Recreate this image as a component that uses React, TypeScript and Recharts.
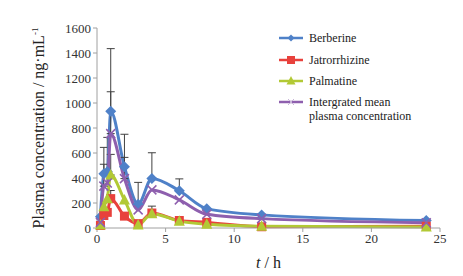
import { LineChart, Line, XAxis, YAxis, ErrorBar, Label } from "recharts";

const hours = [0.25, 0.5, 0.75, 1, 2, 3, 4, 6, 8, 12, 24];
const berberine = [90, 435, 450, 935, 490, 190, 397, 298, 155, 105, 60];
const jatrorrhizine = [20, 100, 125, 235, 95, 35, 120, 60, 45, 10, 15];
const palmatine = [25, 170, 235, 424, 225, 25, 115, 55, 30, 15, 8];
const integrated = [45, 335, 360, 755, 395, 145, 305, 225, 110, 75, 42];

// upper error only (SD), null = no bar
const berberineSd = [null, 210, 275, 500, 260, 175, 205, 95, null, null, null];
const integratedSd = [null, 175, null, 335, 170, null, null, null, null, null, null];
const palmatineSd = [null, null, null, 165, null, null, null, null, null, null, null];
const jatrorrhizineSd = [null, null, null, 65, null, null, 55, null, null, null, null];

const xTicks = [0, 5, 10, 15, 20, 25];
const yTicks = [0, 200, 400, 600, 800, 1000, 1200, 1400, 1600];

const BLUE = "#4F81C8";
const RED = "#E8413C";
const GREEN = "#B2C935";
const PURPLE = "#8E5FAE";
const FONT = "Liberation Serif, DejaVu Serif, serif";

const up = (v: number | null) => (v == null ? null : [0, v]);

const rows = hours.map((t, i) => ({
  t,
  berberine: berberine[i],
  jatrorrhizine: jatrorrhizine[i],
  palmatine: palmatine[i],
  integrated: integrated[i],
  bErr: up(berberineSd[i]),
  jErr: up(jatrorrhizineSd[i]),
  pErr: up(palmatineSd[i]),
  iErr: up(integratedSd[i]),
}));

const diamond = (p: any) => {
  if (p.cx == null) return <g key={p.key} />;
  const r = 5.5;
  return (
    <path key={p.key} d={`M${p.cx},${p.cy - r}L${p.cx + r},${p.cy}L${p.cx},${p.cy + r}L${p.cx - r},${p.cy}Z`} fill={BLUE} />
  );
};
const square = (p: any) => {
  if (p.cx == null) return <g key={p.key} />;
  return <rect key={p.key} x={p.cx - 4.5} y={p.cy - 4.5} width={9} height={9} fill={RED} />;
};
const triangle = (p: any) => {
  if (p.cx == null) return <g key={p.key} />;
  return (
    <path key={p.key} d={`M${p.cx},${p.cy - 6}L${p.cx + 5.5},${p.cy + 4.5}L${p.cx - 5.5},${p.cy + 4.5}Z`} fill={GREEN} />
  );
};
const cross = (p: any) => {
  if (p.cx == null) return <g key={p.key} />;
  const r = 4.5;
  return (
    <path key={p.key} d={`M${p.cx - r},${p.cy - r}L${p.cx + r},${p.cy + r}M${p.cx - r},${p.cy + r}L${p.cx + r},${p.cy - r}`} stroke={PURPLE} strokeWidth={1.5} />
  );
};

const legendRows = [
  { name: ["Berberine"], color: BLUE, mark: "d" },
  { name: ["Jatrorrhizine"], color: RED, mark: "s" },
  { name: ["Palmatine"], color: GREEN, mark: "t" },
  { name: ["Intergrated mean", "plasma concentration"], color: PURPLE, mark: "x" },
];

function LegendBox() {
  const ys = [10, 32, 53, 74];
  return (
    <svg width={180} height={110} style={{ display: "block" }}>
      {legendRows.map((r, i) => {
        const y = ys[i];
        const cx = 16;
        return (
          <g key={r.name[0]}>
            <line x1={4} y1={y} x2={28} y2={y} stroke={r.color} strokeWidth={2.5} />
            {r.mark === "d" && <path d={`M${cx},${y - 3.5}L${cx + 3.5},${y}L${cx},${y + 3.5}L${cx - 3.5},${y}Z`} fill={r.color} />}
            {r.mark === "s" && <rect x={cx - 4} y={y - 4} width={8} height={8} fill={r.color} />}
            {r.mark === "t" && <path d={`M${cx},${y - 5}L${cx + 4.5},${y + 3.5}L${cx - 4.5},${y + 3.5}Z`} fill={r.color} />}
            {r.mark === "x" && <path d={`M${cx - 3},${y - 3}L${cx + 3},${y + 3}M${cx - 3},${y + 3}L${cx + 3},${y - 3}`} stroke="#c9b6d8" strokeWidth={1} />}
            {r.name.map((s, j) => (
              <text key={s} x={34} y={y + 4 + j * 14} fontSize={12} fill="#222" style={{ fontFamily: FONT }}>
                {s}
              </text>
            ))}
          </g>
        );
      })}
    </svg>
  );
}

const XLabel = (props: any) => {
  const vb = props.viewBox;
  return (
    <text x={vb.x + vb.width / 2} y={vb.y + 40} textAnchor="middle" fontSize={16} style={{ fontFamily: FONT }} fill="#222">
      <tspan fontStyle="italic">t</tspan> / h
    </text>
  );
};

const YLabel = (props: any) => {
  const vb = props.viewBox;
  const cx = 44;
  const cy = vb.y + vb.height / 2;
  return (
    <text x={cx} y={cy} transform={`rotate(-90, ${cx}, ${cy})`} textAnchor="middle" fontSize={16} style={{ fontFamily: FONT }} fill="#222">
      Plasma concentration / ng·mL<tspan dy={-6} fontSize={9}>-1</tspan>
    </text>
  );
};

const tickStyle = { fontSize: 13, fill: "#333", style: { fontFamily: FONT } };

export default function App() {
  return (
    <div style={{ position: "absolute", left: 0, top: 0, width: 463, height: 276, background: "#fff", fontFamily: FONT }}>
      <LineChart width={463} height={276} data={rows} margin={{ top: 28, right: 23, bottom: 18, left: 37 }} style={{ fontFamily: FONT }}>
        <XAxis
          type="number"
          dataKey="t"
          domain={[0, 25]}
          ticks={xTicks}
          tick={tickStyle}
          tickSize={4}
          stroke="#a0a0a0"
          height={30}
        >
          <Label content={XLabel} />
        </XAxis>
        <YAxis
          domain={[0, 1600]}
          ticks={yTicks}
          tick={tickStyle}
          tickSize={4}
          stroke="#a0a0a0"
          width={60}
        >
          <Label content={YLabel} />
        </YAxis>
        <Line type="monotone" dataKey="berberine" stroke={BLUE} strokeWidth={3} dot={diamond} isAnimationActive={false}>
          <ErrorBar dataKey="bErr" direction="y" width={4} stroke="#404040" strokeWidth={1} />
        </Line>
        <Line type="monotone" dataKey="jatrorrhizine" stroke={RED} strokeWidth={3} dot={square} isAnimationActive={false}>
          <ErrorBar dataKey="jErr" direction="y" width={4} stroke="#404040" strokeWidth={1} />
        </Line>
        <Line type="monotone" dataKey="palmatine" stroke={GREEN} strokeWidth={3} dot={triangle} isAnimationActive={false}>
          <ErrorBar dataKey="pErr" direction="y" width={4} stroke="#404040" strokeWidth={1} />
        </Line>
        <Line type="monotone" dataKey="integrated" stroke={PURPLE} strokeWidth={3} dot={cross} isAnimationActive={false}>
          <ErrorBar dataKey="iErr" direction="y" width={4} stroke="#404040" strokeWidth={1} />
        </Line>
      </LineChart>
      <div style={{ position: "absolute", left: 275, top: 28 }}>
        <LegendBox />
      </div>
    </div>
  );
}
